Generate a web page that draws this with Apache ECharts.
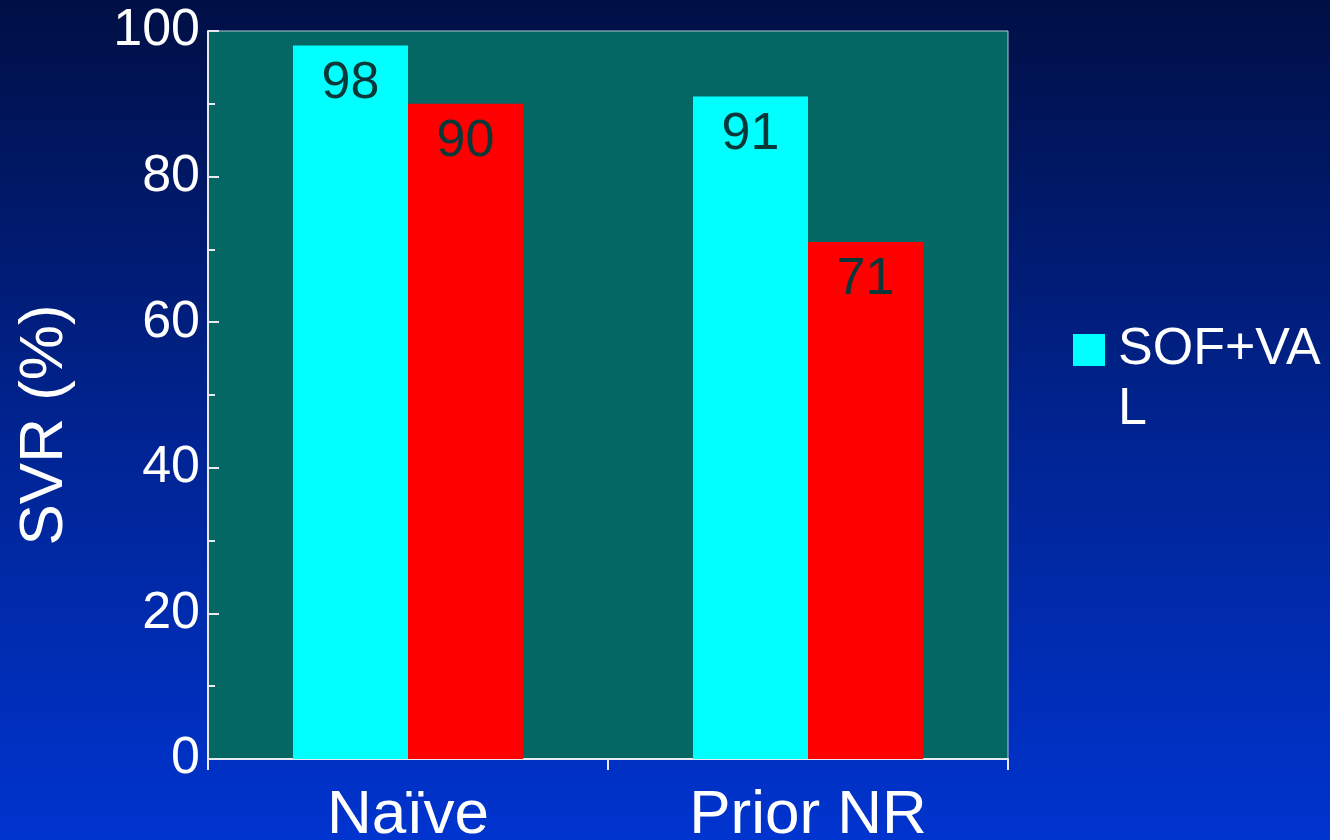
<!DOCTYPE html>
<html>
<head>
<meta charset="utf-8">
<script src="https://cdn.jsdelivr.net/npm/echarts@6/dist/echarts.min.js"></script>
<style>
html,body{margin:0;padding:0;background:#001048;}
#chart{width:1330px;height:840px;}
</style>
</head>
<body>
<div id="chart"></div>
<script>
const categories = ['Naïve', 'Prior NR'];
const seriesNames = ['SOF+VAL', 'SOF+VAL+RBV'];
const sofVal = [98, 91];
const sofValRbv = [90, 71];
const yTicks = [0, 20, 40, 60, 80, 100];

const chart = echarts.init(document.getElementById('chart'));
const font = 'Liberation Sans, Arial, sans-serif';
const labelStyle = {
  show: true,
  position: 'insideTop',
  distance: 12,
  color: '#0a3838',
  fontSize: 52,
  fontFamily: font
};
chart.setOption({
  backgroundColor: {
    type: 'linear', x: 0, y: 0, x2: 0, y2: 1,
    colorStops: [
      { offset: 0, color: '#000f45' },
      { offset: 0.5, color: '#00238f' },
      { offset: 1, color: '#0034cf' }
    ]
  },
  animation: false,
  grid: {
    left: 208, right: 322, top: 31, bottom: 81,
    outerBoundsMode: 'none',
    containLabel: false,
    show: true,
    backgroundColor: '#056764',
    borderColor: '#b8c8d0',
    borderWidth: 1
  },
  legend: {
    data: [seriesNames[0]],
    left: 1073,
    top: 260,
    padding: 0,
    icon: 'rect',
    itemWidth: 32,
    itemHeight: 32,
    itemStyle: { borderWidth: 0 },
    formatter: function (name) { return '\n' + name; },
    textStyle: {
      color: '#ffffff',
      fontSize: 52,
      fontFamily: font,
      width: 212,
      overflow: 'breakAll',
      lineHeight: 60,
      padding: [0, 0, 0, 8]
    }
  },
  xAxis: {
    type: 'category',
    data: categories,
    axisLine: { lineStyle: { color: '#e8eaf0', width: 2 } },
    axisTick: { show: true, length: 11, lineStyle: { color: '#e8eaf0', width: 2 } },
    axisLabel: { color: '#ffffff', fontSize: 62, fontFamily: font, margin: 26 },
    splitLine: { show: false }
  },
  yAxis: {
    type: 'value',
    min: yTicks[0],
    max: yTicks[yTicks.length - 1],
    interval: 20,
    name: 'SVR (%)',
    nameLocation: 'middle',
    nameGap: 132,
    nameTextStyle: { color: '#ffffff', fontSize: 62, fontFamily: font, padding: [0, 60, 0, 0] },
    axisLine: { show: true, lineStyle: { color: '#e8eaf0', width: 2 } },
    axisTick: { show: true, inside: true, length: 11, lineStyle: { color: '#e8eaf0', width: 2 } },
    minorTick: { show: true, splitNumber: 2, length: 7, lineStyle: { color: '#e8eaf0', width: 2 } },
    axisLabel: { color: '#ffffff', fontSize: 52, fontFamily: font, margin: 8 },
    splitLine: { show: false }
  },
  series: [
    {
      name: seriesNames[0],
      type: 'bar',
      data: sofVal,
      barWidth: 115,
      barGap: '0%',
      itemStyle: { color: '#00ffff' },
      label: labelStyle
    },
    {
      name: seriesNames[1],
      type: 'bar',
      data: sofValRbv,
      barWidth: 115,
      barGap: '0%',
      itemStyle: { color: '#ff0000' },
      label: labelStyle
    }
  ]
});
</script>
</body>
</html>
